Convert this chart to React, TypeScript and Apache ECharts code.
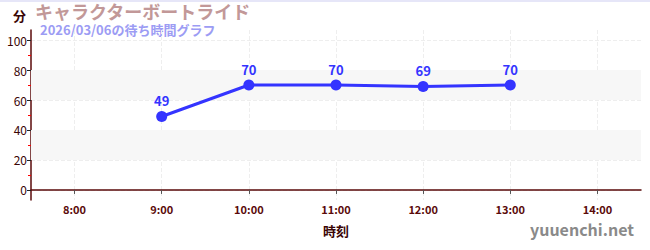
import React, { useEffect, useRef } from "react";
import * as echarts from "echarts";

const titleText = "キャラクターボートライド";
const subtitleText = "2026/03/06の待ち時間グラフ";
const yUnit = "分";
const xName = "時刻";
const watermark = "yuuenchi.net";

const xTickLabels = ["8:00", "9:00", "10:00", "11:00", "12:00", "13:00", "14:00"];
const times = ["9:00", "10:00", "11:00", "12:00", "13:00"];
const waits = [49, 70, 70, 69, 70];
const yMajor = [0, 20, 40, 60, 80, 100];
const yMinor = [10, 30, 50, 70, 90];
const bands: [number, number][] = [[20, 40], [60, 80]];

const toHour = (s: string) => {
  const [h, m] = s.split(":").map(Number);
  return h + m / 60;
};

const FONT = "'Noto Sans CJK JP', 'Noto Sans', sans-serif";
const AXIS_COLOR = "#5a0a0a";
const LINE_COLOR = "#3434ff";

export default function App() {
  const ref = useRef<HTMLDivElement>(null);
  useEffect(() => {
    document.body.style.margin = "0";
    if (!ref.current) return;
    const chart = echarts.init(ref.current, undefined, { renderer: "svg" });
    const xTicks = xTickLabels.map(toHour);
    chart.setOption({
      animation: false,
      textStyle: { fontFamily: FONT },
      grid: { left: 31, right: 9, top: 30, bottom: 50 },
      graphic: [
        { type: "rect", left: 0, top: 0, shape: { width: 650, height: 2 }, style: { fill: "#e6e6f8" }, silent: true },
        { type: "text", left: 35, top: 2, style: { text: titleText, fill: "#c29898", font: `bold 18px ${FONT}` } },
        { type: "text", left: 40, top: 23, style: { text: subtitleText, fill: "#9c9cf4", font: `bold 13px ${FONT}` } },
        { type: "text", left: 13, top: 9, style: { text: yUnit, fill: "#3a0505", font: `bold 13px ${FONT}` } },
        { type: "text", right: 16, top: 221, style: { text: watermark, fill: "#8a8a8a", font: `bold 16px ${FONT}` } },
      ],
      xAxis: {
        type: "value",
        min: 7.5,
        max: 14.5,
        name: xName,
        nameLocation: "middle",
        nameGap: 24,
        nameTextStyle: { color: "#3a0505", fontSize: 13, fontWeight: "bold", fontFamily: FONT },
        axisLine: { show: true, lineStyle: { color: AXIS_COLOR, width: 1.5 } },
        axisTick: { show: true, length: 4, customValues: xTicks, lineStyle: { color: "#555" } },
        axisLabel: {
          customValues: xTicks,
          formatter: (v: number) => xTickLabels[xTicks.indexOf(v)] ?? "",
          color: AXIS_COLOR,
          fontSize: 11,
          fontWeight: "bold",
          margin: 3,
        },
        splitLine: { show: true, lineStyle: { color: "#eeeeee", type: "dashed" } },
      },
      yAxis: [
        {
          type: "value",
          min: -6.7,
          max: 106.7,
          axisLine: { show: true, lineStyle: { color: AXIS_COLOR, width: 1.5 } },
          axisTick: { show: true, length: 4, customValues: yMajor, lineStyle: { color: "#222" } },
          axisLabel: { customValues: yMajor, color: "#3a0505", fontSize: 12, margin: 4 },
          splitLine: { show: true, lineStyle: { color: "#eeeeee", type: "dashed" } },
        },
        {
          type: "value",
          position: "left",
          min: -6.7,
          max: 106.7,
          axisLine: { show: false },
          axisTick: { show: true, length: 3, customValues: yMinor, lineStyle: { color: "#ff0000" } },
          axisLabel: { show: false, customValues: yMinor },
          splitLine: { show: false },
        },
      ],
      series: [
        {
          type: "line",
          data: times.map((t, i) => [toHour(t), waits[i]]),
          symbol: "circle",
          symbolSize: 11,
          lineStyle: { color: LINE_COLOR, width: 3 },
          itemStyle: { color: LINE_COLOR },
          label: { show: true, position: "top", distance: 4, color: LINE_COLOR, fontSize: 13, fontWeight: "bold" },
          markArea: {
            silent: true,
            itemStyle: { color: "#f7f7f7" },
            data: bands.map(([a, b]) => [{ yAxis: a }, { yAxis: b }]),
          },
          z: 5,
        },
      ],
    });
    return () => chart.dispose();
  }, []);
  return <div ref={ref} style={{ width: 650, height: 250 }} />;
}
